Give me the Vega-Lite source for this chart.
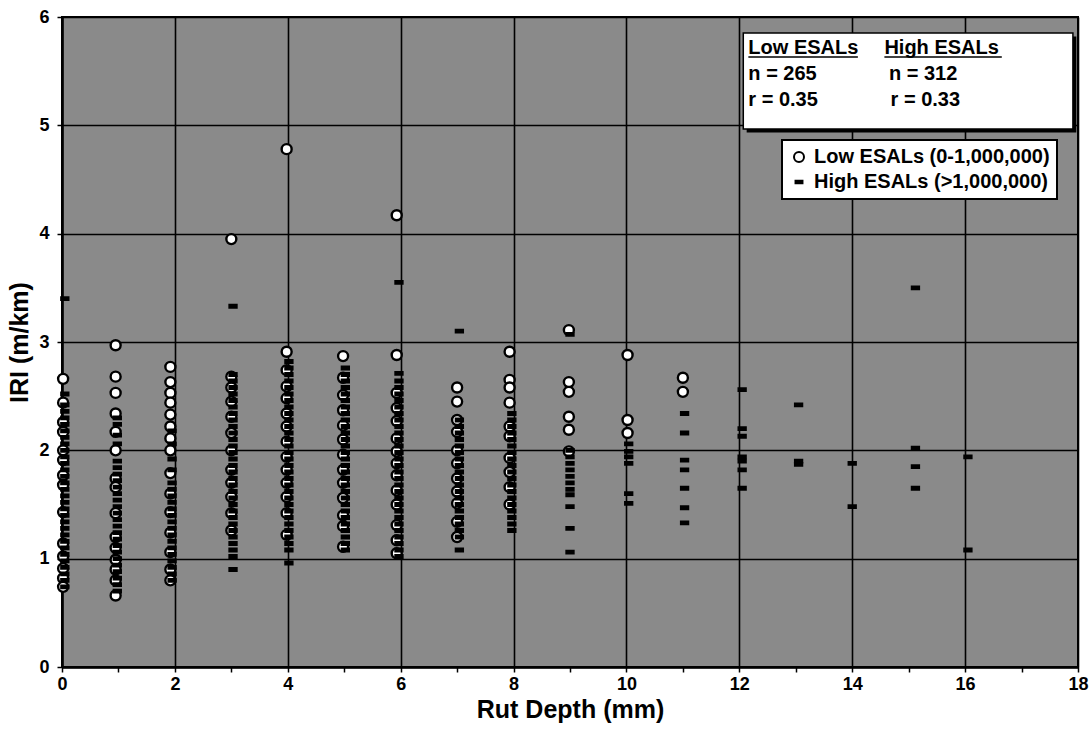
{
  "$schema": "https://vega.github.io/schema/vega-lite/v6.json",
  "width": 1016,
  "height": 650,
  "autosize": {"type": "none"},
  "padding": {"left": 62, "top": 17, "right": 13, "bottom": 70},
  "background": "white",
  "config": {
    "view": {"fill": "#8a8a8a", "stroke": "black", "strokeWidth": 2},
    "font": "Liberation Sans",
    "legend": {
      "orient": "none", "legendX": 720, "legendY": 123,
      "fillColor": "white", "strokeColor": "black", "strokeWidth": 2,
      "padding": 7, "labelFont": "Liberation Sans", "labelFontSize": 20, "labelFontWeight": "bold",
      "labelColor": "black", "labelOffset": 5, "rowPadding": 5, "symbolStrokeWidth": 2,
      "cornerRadius": 0, "labelLimit": 400
    }
  },
  "data": {"values": [
    {"esal":"Low","rut":0.02,"iri":2.66},{"esal":"Low","rut":0.02,"iri":2.44},{"esal":"Low","rut":0.02,"iri":2.26},{"esal":"Low","rut":0.02,"iri":2.17},{"esal":"Low","rut":0.02,"iri":2.0},{"esal":"Low","rut":0.02,"iri":1.91},{"esal":"Low","rut":0.02,"iri":1.77},{"esal":"Low","rut":0.02,"iri":1.68},{"esal":"Low","rut":0.02,"iri":1.43},{"esal":"Low","rut":0.02,"iri":1.14},{"esal":"Low","rut":0.02,"iri":1.02},{"esal":"Low","rut":0.02,"iri":0.91},{"esal":"Low","rut":0.02,"iri":0.82},{"esal":"Low","rut":0.02,"iri":0.74},
    {"esal":"Low","rut":0.95,"iri":2.97},{"esal":"Low","rut":0.95,"iri":2.68},{"esal":"Low","rut":0.95,"iri":2.53},{"esal":"Low","rut":0.95,"iri":2.34},{"esal":"Low","rut":0.95,"iri":2.17},{"esal":"Low","rut":0.95,"iri":2.0},{"esal":"Low","rut":0.95,"iri":1.74},{"esal":"Low","rut":0.95,"iri":1.66},{"esal":"Low","rut":0.95,"iri":1.42},{"esal":"Low","rut":0.95,"iri":1.2},{"esal":"Low","rut":0.95,"iri":1.1},{"esal":"Low","rut":0.95,"iri":0.99},{"esal":"Low","rut":0.95,"iri":0.9},{"esal":"Low","rut":0.95,"iri":0.8},{"esal":"Low","rut":0.95,"iri":0.66},
    {"esal":"Low","rut":1.92,"iri":2.77},{"esal":"Low","rut":1.92,"iri":2.63},{"esal":"Low","rut":1.92,"iri":2.53},{"esal":"Low","rut":1.92,"iri":2.44},{"esal":"Low","rut":1.92,"iri":2.33},{"esal":"Low","rut":1.92,"iri":2.22},{"esal":"Low","rut":1.92,"iri":2.11},{"esal":"Low","rut":1.92,"iri":2.0},{"esal":"Low","rut":1.92,"iri":1.79},{"esal":"Low","rut":1.92,"iri":1.6},{"esal":"Low","rut":1.92,"iri":1.43},{"esal":"Low","rut":1.92,"iri":1.24},{"esal":"Low","rut":1.92,"iri":1.06},{"esal":"Low","rut":1.92,"iri":0.9},{"esal":"Low","rut":1.92,"iri":0.8},
    {"esal":"Low","rut":3.0,"iri":3.95},{"esal":"Low","rut":3.0,"iri":2.68},{"esal":"Low","rut":3.0,"iri":2.58},{"esal":"Low","rut":3.0,"iri":2.45},{"esal":"Low","rut":3.0,"iri":2.31},{"esal":"Low","rut":3.0,"iri":2.16},{"esal":"Low","rut":3.0,"iri":2.0},{"esal":"Low","rut":3.0,"iri":1.82},{"esal":"Low","rut":3.0,"iri":1.7},{"esal":"Low","rut":3.0,"iri":1.57},{"esal":"Low","rut":3.0,"iri":1.42},{"esal":"Low","rut":3.0,"iri":1.26},
    {"esal":"Low","rut":3.98,"iri":4.78},{"esal":"Low","rut":3.98,"iri":2.91},{"esal":"Low","rut":3.98,"iri":2.74},{"esal":"Low","rut":3.98,"iri":2.59},{"esal":"Low","rut":3.98,"iri":2.48},{"esal":"Low","rut":3.98,"iri":2.34},{"esal":"Low","rut":3.98,"iri":2.22},{"esal":"Low","rut":3.98,"iri":2.08},{"esal":"Low","rut":3.98,"iri":1.94},{"esal":"Low","rut":3.98,"iri":1.82},{"esal":"Low","rut":3.98,"iri":1.7},{"esal":"Low","rut":3.98,"iri":1.57},{"esal":"Low","rut":3.98,"iri":1.42},{"esal":"Low","rut":3.98,"iri":1.22},
    {"esal":"Low","rut":4.98,"iri":2.87},{"esal":"Low","rut":4.98,"iri":2.67},{"esal":"Low","rut":4.98,"iri":2.51},{"esal":"Low","rut":4.98,"iri":2.37},{"esal":"Low","rut":4.98,"iri":2.23},{"esal":"Low","rut":4.98,"iri":2.1},{"esal":"Low","rut":4.98,"iri":1.96},{"esal":"Low","rut":4.98,"iri":1.82},{"esal":"Low","rut":4.98,"iri":1.7},{"esal":"Low","rut":4.98,"iri":1.56},{"esal":"Low","rut":4.98,"iri":1.4},{"esal":"Low","rut":4.98,"iri":1.3},{"esal":"Low","rut":4.98,"iri":1.11},
    {"esal":"Low","rut":5.93,"iri":4.17},{"esal":"Low","rut":5.93,"iri":2.88},{"esal":"Low","rut":5.93,"iri":2.53},{"esal":"Low","rut":5.93,"iri":2.39},{"esal":"Low","rut":5.93,"iri":2.27},{"esal":"Low","rut":5.93,"iri":2.11},{"esal":"Low","rut":5.93,"iri":1.99},{"esal":"Low","rut":5.93,"iri":1.88},{"esal":"Low","rut":5.93,"iri":1.77},{"esal":"Low","rut":5.93,"iri":1.63},{"esal":"Low","rut":5.93,"iri":1.5},{"esal":"Low","rut":5.93,"iri":1.31},{"esal":"Low","rut":5.93,"iri":1.17},{"esal":"Low","rut":5.93,"iri":1.05},
    {"esal":"Low","rut":7.0,"iri":2.58},{"esal":"Low","rut":7.0,"iri":2.45},{"esal":"Low","rut":7.0,"iri":2.28},{"esal":"Low","rut":7.0,"iri":2.17},{"esal":"Low","rut":7.0,"iri":2.0},{"esal":"Low","rut":7.0,"iri":1.88},{"esal":"Low","rut":7.0,"iri":1.74},{"esal":"Low","rut":7.0,"iri":1.62},{"esal":"Low","rut":7.0,"iri":1.51},{"esal":"Low","rut":7.0,"iri":1.34},{"esal":"Low","rut":7.0,"iri":1.2},
    {"esal":"Low","rut":7.93,"iri":2.91},{"esal":"Low","rut":7.93,"iri":2.65},{"esal":"Low","rut":7.93,"iri":2.58},{"esal":"Low","rut":7.93,"iri":2.44},{"esal":"Low","rut":7.93,"iri":2.22},{"esal":"Low","rut":7.93,"iri":2.13},{"esal":"Low","rut":7.93,"iri":1.93},{"esal":"Low","rut":7.93,"iri":1.8},{"esal":"Low","rut":7.93,"iri":1.66},{"esal":"Low","rut":7.93,"iri":1.5},
    {"esal":"Low","rut":8.98,"iri":3.11},{"esal":"Low","rut":8.98,"iri":2.63},{"esal":"Low","rut":8.98,"iri":2.54},{"esal":"Low","rut":8.98,"iri":2.31},{"esal":"Low","rut":8.98,"iri":2.19},{"esal":"Low","rut":8.98,"iri":1.99},
    {"esal":"Low","rut":10.02,"iri":2.88},{"esal":"Low","rut":10.02,"iri":2.28},{"esal":"Low","rut":10.02,"iri":2.16},
    {"esal":"Low","rut":11.0,"iri":2.67},{"esal":"Low","rut":11.0,"iri":2.54},

    {"esal":"High","rut":0.05,"iri":0.74},{"esal":"High","rut":0.05,"iri":0.8},{"esal":"High","rut":0.05,"iri":0.86},{"esal":"High","rut":0.05,"iri":0.92},{"esal":"High","rut":0.05,"iri":0.98},{"esal":"High","rut":0.05,"iri":1.04},{"esal":"High","rut":0.05,"iri":1.1},{"esal":"High","rut":0.05,"iri":1.16},{"esal":"High","rut":0.05,"iri":1.22},{"esal":"High","rut":0.05,"iri":1.28},{"esal":"High","rut":0.05,"iri":1.34},{"esal":"High","rut":0.05,"iri":1.4},{"esal":"High","rut":0.05,"iri":1.46},{"esal":"High","rut":0.05,"iri":1.52},{"esal":"High","rut":0.05,"iri":1.58},{"esal":"High","rut":0.05,"iri":1.64},{"esal":"High","rut":0.05,"iri":1.7},{"esal":"High","rut":0.05,"iri":1.76},{"esal":"High","rut":0.05,"iri":1.82},{"esal":"High","rut":0.05,"iri":1.88},{"esal":"High","rut":0.05,"iri":1.94},{"esal":"High","rut":0.05,"iri":2.0},{"esal":"High","rut":0.05,"iri":2.06},{"esal":"High","rut":0.05,"iri":2.12},{"esal":"High","rut":0.05,"iri":2.18},{"esal":"High","rut":0.05,"iri":2.24},{"esal":"High","rut":0.05,"iri":2.3},{"esal":"High","rut":0.05,"iri":2.36},{"esal":"High","rut":0.05,"iri":2.42},{"esal":"High","rut":0.05,"iri":2.52},{"esal":"High","rut":0.05,"iri":3.4},
    {"esal":"High","rut":0.98,"iri":0.7},{"esal":"High","rut":0.98,"iri":0.76},{"esal":"High","rut":0.98,"iri":0.82},{"esal":"High","rut":0.98,"iri":0.88},{"esal":"High","rut":0.98,"iri":0.94},{"esal":"High","rut":0.98,"iri":1.0},{"esal":"High","rut":0.98,"iri":1.06},{"esal":"High","rut":0.98,"iri":1.12},{"esal":"High","rut":0.98,"iri":1.18},{"esal":"High","rut":0.98,"iri":1.24},{"esal":"High","rut":0.98,"iri":1.3},{"esal":"High","rut":0.98,"iri":1.36},{"esal":"High","rut":0.98,"iri":1.42},{"esal":"High","rut":0.98,"iri":1.48},{"esal":"High","rut":0.98,"iri":1.54},{"esal":"High","rut":0.98,"iri":1.6},{"esal":"High","rut":0.98,"iri":1.66},{"esal":"High","rut":0.98,"iri":1.72},{"esal":"High","rut":0.98,"iri":1.78},{"esal":"High","rut":0.98,"iri":1.84},{"esal":"High","rut":0.98,"iri":1.9},{"esal":"High","rut":0.98,"iri":2.06},{"esal":"High","rut":0.98,"iri":2.14},{"esal":"High","rut":0.98,"iri":2.24},{"esal":"High","rut":0.98,"iri":2.3},
    {"esal":"High","rut":1.95,"iri":0.8},{"esal":"High","rut":1.95,"iri":0.86},{"esal":"High","rut":1.95,"iri":0.92},{"esal":"High","rut":1.95,"iri":0.98},{"esal":"High","rut":1.95,"iri":1.04},{"esal":"High","rut":1.95,"iri":1.1},{"esal":"High","rut":1.95,"iri":1.16},{"esal":"High","rut":1.95,"iri":1.22},{"esal":"High","rut":1.95,"iri":1.28},{"esal":"High","rut":1.95,"iri":1.34},{"esal":"High","rut":1.95,"iri":1.4},{"esal":"High","rut":1.95,"iri":1.46},{"esal":"High","rut":1.95,"iri":1.52},{"esal":"High","rut":1.95,"iri":1.58},{"esal":"High","rut":1.95,"iri":1.64},{"esal":"High","rut":1.95,"iri":1.7},{"esal":"High","rut":1.95,"iri":1.82},{"esal":"High","rut":1.95,"iri":1.92},{"esal":"High","rut":1.95,"iri":2.06},{"esal":"High","rut":1.95,"iri":2.18},
    {"esal":"High","rut":3.03,"iri":0.9},{"esal":"High","rut":3.03,"iri":1.02},{"esal":"High","rut":3.03,"iri":1.08},{"esal":"High","rut":3.03,"iri":1.14},{"esal":"High","rut":3.03,"iri":1.2},{"esal":"High","rut":3.03,"iri":1.26},{"esal":"High","rut":3.03,"iri":1.32},{"esal":"High","rut":3.03,"iri":1.38},{"esal":"High","rut":3.03,"iri":1.44},{"esal":"High","rut":3.03,"iri":1.5},{"esal":"High","rut":3.03,"iri":1.56},{"esal":"High","rut":3.03,"iri":1.62},{"esal":"High","rut":3.03,"iri":1.68},{"esal":"High","rut":3.03,"iri":1.74},{"esal":"High","rut":3.03,"iri":1.8},{"esal":"High","rut":3.03,"iri":1.86},{"esal":"High","rut":3.03,"iri":1.92},{"esal":"High","rut":3.03,"iri":1.98},{"esal":"High","rut":3.03,"iri":2.04},{"esal":"High","rut":3.03,"iri":2.1},{"esal":"High","rut":3.03,"iri":2.16},{"esal":"High","rut":3.03,"iri":2.22},{"esal":"High","rut":3.03,"iri":2.28},{"esal":"High","rut":3.03,"iri":2.34},{"esal":"High","rut":3.03,"iri":2.4},{"esal":"High","rut":3.03,"iri":2.46},{"esal":"High","rut":3.03,"iri":2.52},{"esal":"High","rut":3.03,"iri":2.58},{"esal":"High","rut":3.03,"iri":2.64},{"esal":"High","rut":3.03,"iri":2.7},{"esal":"High","rut":3.03,"iri":3.33},
    {"esal":"High","rut":4.02,"iri":0.96},{"esal":"High","rut":4.02,"iri":1.08},{"esal":"High","rut":4.02,"iri":1.14},{"esal":"High","rut":4.02,"iri":1.2},{"esal":"High","rut":4.02,"iri":1.26},{"esal":"High","rut":4.02,"iri":1.32},{"esal":"High","rut":4.02,"iri":1.38},{"esal":"High","rut":4.02,"iri":1.44},{"esal":"High","rut":4.02,"iri":1.5},{"esal":"High","rut":4.02,"iri":1.56},{"esal":"High","rut":4.02,"iri":1.62},{"esal":"High","rut":4.02,"iri":1.68},{"esal":"High","rut":4.02,"iri":1.74},{"esal":"High","rut":4.02,"iri":1.8},{"esal":"High","rut":4.02,"iri":1.86},{"esal":"High","rut":4.02,"iri":1.92},{"esal":"High","rut":4.02,"iri":1.98},{"esal":"High","rut":4.02,"iri":2.04},{"esal":"High","rut":4.02,"iri":2.1},{"esal":"High","rut":4.02,"iri":2.16},{"esal":"High","rut":4.02,"iri":2.22},{"esal":"High","rut":4.02,"iri":2.28},{"esal":"High","rut":4.02,"iri":2.34},{"esal":"High","rut":4.02,"iri":2.4},{"esal":"High","rut":4.02,"iri":2.46},{"esal":"High","rut":4.02,"iri":2.52},{"esal":"High","rut":4.02,"iri":2.58},{"esal":"High","rut":4.02,"iri":2.64},{"esal":"High","rut":4.02,"iri":2.7},{"esal":"High","rut":4.02,"iri":2.76},{"esal":"High","rut":4.02,"iri":2.82},
    {"esal":"High","rut":5.02,"iri":1.08},{"esal":"High","rut":5.02,"iri":1.14},{"esal":"High","rut":5.02,"iri":1.2},{"esal":"High","rut":5.02,"iri":1.26},{"esal":"High","rut":5.02,"iri":1.32},{"esal":"High","rut":5.02,"iri":1.38},{"esal":"High","rut":5.02,"iri":1.44},{"esal":"High","rut":5.02,"iri":1.5},{"esal":"High","rut":5.02,"iri":1.56},{"esal":"High","rut":5.02,"iri":1.62},{"esal":"High","rut":5.02,"iri":1.68},{"esal":"High","rut":5.02,"iri":1.74},{"esal":"High","rut":5.02,"iri":1.8},{"esal":"High","rut":5.02,"iri":1.86},{"esal":"High","rut":5.02,"iri":1.92},{"esal":"High","rut":5.02,"iri":1.98},{"esal":"High","rut":5.02,"iri":2.04},{"esal":"High","rut":5.02,"iri":2.1},{"esal":"High","rut":5.02,"iri":2.16},{"esal":"High","rut":5.02,"iri":2.22},{"esal":"High","rut":5.02,"iri":2.28},{"esal":"High","rut":5.02,"iri":2.34},{"esal":"High","rut":5.02,"iri":2.4},{"esal":"High","rut":5.02,"iri":2.46},{"esal":"High","rut":5.02,"iri":2.52},{"esal":"High","rut":5.02,"iri":2.58},{"esal":"High","rut":5.02,"iri":2.64},{"esal":"High","rut":5.02,"iri":2.7},{"esal":"High","rut":5.02,"iri":2.76},
    {"esal":"High","rut":5.97,"iri":1.02},{"esal":"High","rut":5.97,"iri":1.08},{"esal":"High","rut":5.97,"iri":1.14},{"esal":"High","rut":5.97,"iri":1.2},{"esal":"High","rut":5.97,"iri":1.26},{"esal":"High","rut":5.97,"iri":1.32},{"esal":"High","rut":5.97,"iri":1.38},{"esal":"High","rut":5.97,"iri":1.44},{"esal":"High","rut":5.97,"iri":1.5},{"esal":"High","rut":5.97,"iri":1.56},{"esal":"High","rut":5.97,"iri":1.62},{"esal":"High","rut":5.97,"iri":1.68},{"esal":"High","rut":5.97,"iri":1.74},{"esal":"High","rut":5.97,"iri":1.8},{"esal":"High","rut":5.97,"iri":1.86},{"esal":"High","rut":5.97,"iri":1.92},{"esal":"High","rut":5.97,"iri":1.98},{"esal":"High","rut":5.97,"iri":2.04},{"esal":"High","rut":5.97,"iri":2.1},{"esal":"High","rut":5.97,"iri":2.16},{"esal":"High","rut":5.97,"iri":2.22},{"esal":"High","rut":5.97,"iri":2.28},{"esal":"High","rut":5.97,"iri":2.34},{"esal":"High","rut":5.97,"iri":2.4},{"esal":"High","rut":5.97,"iri":2.46},{"esal":"High","rut":5.97,"iri":2.52},{"esal":"High","rut":5.97,"iri":2.58},{"esal":"High","rut":5.97,"iri":2.64},{"esal":"High","rut":5.97,"iri":2.71},{"esal":"High","rut":5.97,"iri":3.55},
    {"esal":"High","rut":7.04,"iri":1.08},{"esal":"High","rut":7.04,"iri":1.2},{"esal":"High","rut":7.04,"iri":1.26},{"esal":"High","rut":7.04,"iri":1.32},{"esal":"High","rut":7.04,"iri":1.38},{"esal":"High","rut":7.04,"iri":1.44},{"esal":"High","rut":7.04,"iri":1.5},{"esal":"High","rut":7.04,"iri":1.56},{"esal":"High","rut":7.04,"iri":1.62},{"esal":"High","rut":7.04,"iri":1.68},{"esal":"High","rut":7.04,"iri":1.74},{"esal":"High","rut":7.04,"iri":1.8},{"esal":"High","rut":7.04,"iri":1.86},{"esal":"High","rut":7.04,"iri":1.92},{"esal":"High","rut":7.04,"iri":1.98},{"esal":"High","rut":7.04,"iri":2.04},{"esal":"High","rut":7.04,"iri":2.1},{"esal":"High","rut":7.04,"iri":2.16},{"esal":"High","rut":7.04,"iri":2.22},{"esal":"High","rut":7.04,"iri":2.28},{"esal":"High","rut":7.04,"iri":3.1},
    {"esal":"High","rut":7.97,"iri":1.26},{"esal":"High","rut":7.97,"iri":1.32},{"esal":"High","rut":7.97,"iri":1.38},{"esal":"High","rut":7.97,"iri":1.44},{"esal":"High","rut":7.97,"iri":1.5},{"esal":"High","rut":7.97,"iri":1.56},{"esal":"High","rut":7.97,"iri":1.62},{"esal":"High","rut":7.97,"iri":1.68},{"esal":"High","rut":7.97,"iri":1.74},{"esal":"High","rut":7.97,"iri":1.8},{"esal":"High","rut":7.97,"iri":1.86},{"esal":"High","rut":7.97,"iri":1.92},{"esal":"High","rut":7.97,"iri":1.98},{"esal":"High","rut":7.97,"iri":2.04},{"esal":"High","rut":7.97,"iri":2.1},{"esal":"High","rut":7.97,"iri":2.16},{"esal":"High","rut":7.97,"iri":2.22},{"esal":"High","rut":7.97,"iri":2.28},{"esal":"High","rut":7.97,"iri":2.34},
    {"esal":"High","rut":9.0,"iri":3.07},{"esal":"High","rut":9.0,"iri":2.0},{"esal":"High","rut":9.0,"iri":1.94},{"esal":"High","rut":9.0,"iri":1.88},{"esal":"High","rut":9.0,"iri":1.82},{"esal":"High","rut":9.0,"iri":1.76},{"esal":"High","rut":9.0,"iri":1.7},{"esal":"High","rut":9.0,"iri":1.64},{"esal":"High","rut":9.0,"iri":1.59},{"esal":"High","rut":9.0,"iri":1.48},{"esal":"High","rut":9.0,"iri":1.28},{"esal":"High","rut":9.0,"iri":1.06},
    {"esal":"High","rut":10.04,"iri":2.06},{"esal":"High","rut":10.04,"iri":1.99},{"esal":"High","rut":10.04,"iri":1.94},{"esal":"High","rut":10.04,"iri":1.88},{"esal":"High","rut":10.04,"iri":1.6},{"esal":"High","rut":10.04,"iri":1.51},
    {"esal":"High","rut":11.03,"iri":2.34},{"esal":"High","rut":11.03,"iri":2.16},{"esal":"High","rut":11.03,"iri":1.91},{"esal":"High","rut":11.03,"iri":1.82},{"esal":"High","rut":11.03,"iri":1.65},{"esal":"High","rut":11.03,"iri":1.47},{"esal":"High","rut":11.03,"iri":1.33},
    {"esal":"High","rut":12.05,"iri":2.56},{"esal":"High","rut":12.05,"iri":2.2},{"esal":"High","rut":12.05,"iri":2.13},{"esal":"High","rut":12.05,"iri":1.94},{"esal":"High","rut":12.05,"iri":1.9},{"esal":"High","rut":12.05,"iri":1.82},{"esal":"High","rut":12.05,"iri":1.65},
    {"esal":"High","rut":13.05,"iri":2.42},{"esal":"High","rut":13.05,"iri":1.9},{"esal":"High","rut":13.05,"iri":1.87},
    {"esal":"High","rut":14.0,"iri":1.88},{"esal":"High","rut":14.0,"iri":1.48},
    {"esal":"High","rut":15.12,"iri":3.5},{"esal":"High","rut":15.12,"iri":2.02},{"esal":"High","rut":15.12,"iri":1.85},{"esal":"High","rut":15.12,"iri":1.65},
    {"esal":"High","rut":16.05,"iri":1.94},{"esal":"High","rut":16.05,"iri":1.08}
  ]},
  "encoding": {
    "x": {
      "field": "rut", "type": "quantitative", "title": "Rut Depth (mm)",
      "scale": {"domain": [0, 18], "nice": false, "zero": false},
      "axis": {
        "values": [0,0.5,1,1.5,2,2.5,3,3.5,4,4.5,5,5.5,6,6.5,7,7.5,8,8.5,9,9.5,10,10.5,11,11.5,12,12.5,13,13.5,14,14.5,15,15.5,16,16.5,17,17.5,18],
        "format": "d",
        "labelExpr": "datum.value % 2 === 0 ? datum.label : ''",
        "grid": true, "gridColor": "black", "gridWidth": 1.6,
        "gridOpacity": {"condition": {"test": "datum.value % 2 === 0", "value": 1}, "value": 0},
        "domainColor": "black", "domainWidth": 2.5, "tickColor": "black", "tickWidth": 1.5, "tickSize": 5,
        "labelFont": "Liberation Sans", "labelFontSize": 18, "labelFontWeight": "bold", "labelColor": "black",
        "labelPadding": 3, "labelFlush": false, "labelOverlap": false,
        "titleFont": "Liberation Sans", "titleFontSize": 25, "titleFontWeight": "bold", "titleColor": "black", "titlePadding": 4
      }
    },
    "y": {
      "field": "iri", "type": "quantitative", "title": "IRI (m/km)",
      "scale": {"domain": [0, 6], "nice": false},
      "axis": {
        "values": [0,0.5,1,1.5,2,2.5,3,3.5,4,4.5,5,5.5,6],
        "format": "d",
        "labelExpr": "datum.value % 1 === 0 ? datum.label : ''",
        "grid": true, "gridColor": "black", "gridWidth": 1.6,
        "gridOpacity": {"condition": {"test": "datum.value % 1 === 0", "value": 1}, "value": 0},
        "domainColor": "black", "domainWidth": 2.5, "tickColor": "black", "tickWidth": 1.5, "tickSize": 5,
        "labelFont": "Liberation Sans", "labelFontSize": 18, "labelFontWeight": "bold", "labelColor": "black",
        "labelPadding": 8, "labelFlush": false, "labelOverlap": false,
        "titleFont": "Liberation Sans", "titleFontSize": 25, "titleFontWeight": "bold", "titleColor": "black", "titlePadding": 6
      }
    }
  },
  "layer": [
    {
      "mark": {"type": "point", "filled": true, "strokeWidth": 2.4, "opacity": 1},
      "encoding": {
        "shape": {"field": "esal", "type": "nominal", "scale": {"domain": ["Low", "High"], "range": ["circle", "M-1,-0.36L1,-0.36L1,0.36L-1,0.36Z"]},
          "legend": {"title": null, "labelExpr": "datum.label == 'Low' ? 'Low ESALs (0-1,000,000)' : 'High ESALs (>1,000,000)'"}},
        "fill": {"field": "esal", "type": "nominal", "scale": {"domain": ["Low", "High"], "range": ["white", "black"]},
          "legend": {"title": null, "labelExpr": "datum.label == 'Low' ? 'Low ESALs (0-1,000,000)' : 'High ESALs (>1,000,000)'"}},
        "stroke": {"field": "esal", "type": "nominal", "scale": {"domain": ["Low", "High"], "range": ["black", "black"]},
          "legend": {"title": null, "labelExpr": "datum.label == 'Low' ? 'Low ESALs (0-1,000,000)' : 'High ESALs (>1,000,000)'"}},
        "size": {"field": "esal", "type": "nominal", "scale": {"domain": ["Low", "High"], "range": [100, 48]},
          "legend": {"title": null, "labelExpr": "datum.label == 'Low' ? 'Low ESALs (0-1,000,000)' : 'High ESALs (>1,000,000)'"}}
      }
    },
    {
      "data": {"values": [{"rut": 12.13, "rut2": 17.97, "iri": 5.82, "iri2": 4.935}]},
      "mark": {"type": "rect", "fill": "black"},
      "encoding": {"x2": {"field": "rut2"}, "y2": {"field": "iri2"}}
    },
    {
      "data": {"values": [{"rut": 12.07, "rut2": 17.91, "iri": 5.852, "iri2": 4.966}]},
      "mark": {"type": "rect", "fill": "white", "stroke": "black", "strokeWidth": 1.5},
      "encoding": {"x2": {"field": "rut2"}, "y2": {"field": "iri2"}}
    },
    {
      "data": {"values": [
        {"rut": 12.16, "iri": 5.71, "t": "Low ESALs"},
        {"rut": 14.57, "iri": 5.71, "t": "High ESALs"},
        {"rut": 12.16, "iri": 5.47, "t": "n = 265"},
        {"rut": 14.65, "iri": 5.47, "t": "n = 312"},
        {"rut": 12.16, "iri": 5.23, "t": "r = 0.35"},
        {"rut": 14.68, "iri": 5.23, "t": "r = 0.33"}
      ]},
      "mark": {"type": "text", "align": "left", "baseline": "middle", "font": "Liberation Sans", "fontSize": 20, "fontWeight": "bold", "color": "black"},
      "encoding": {"text": {"field": "t"}}
    },
    {
      "data": {"values": [
        {"rut": 12.16, "rut2": 14.1, "iri": 5.63},
        {"rut": 14.57, "rut2": 16.65, "iri": 5.63}
      ]},
      "mark": {"type": "rule", "color": "black", "strokeWidth": 1.5},
      "encoding": {"x2": {"field": "rut2"}}
    }
  ]
}
